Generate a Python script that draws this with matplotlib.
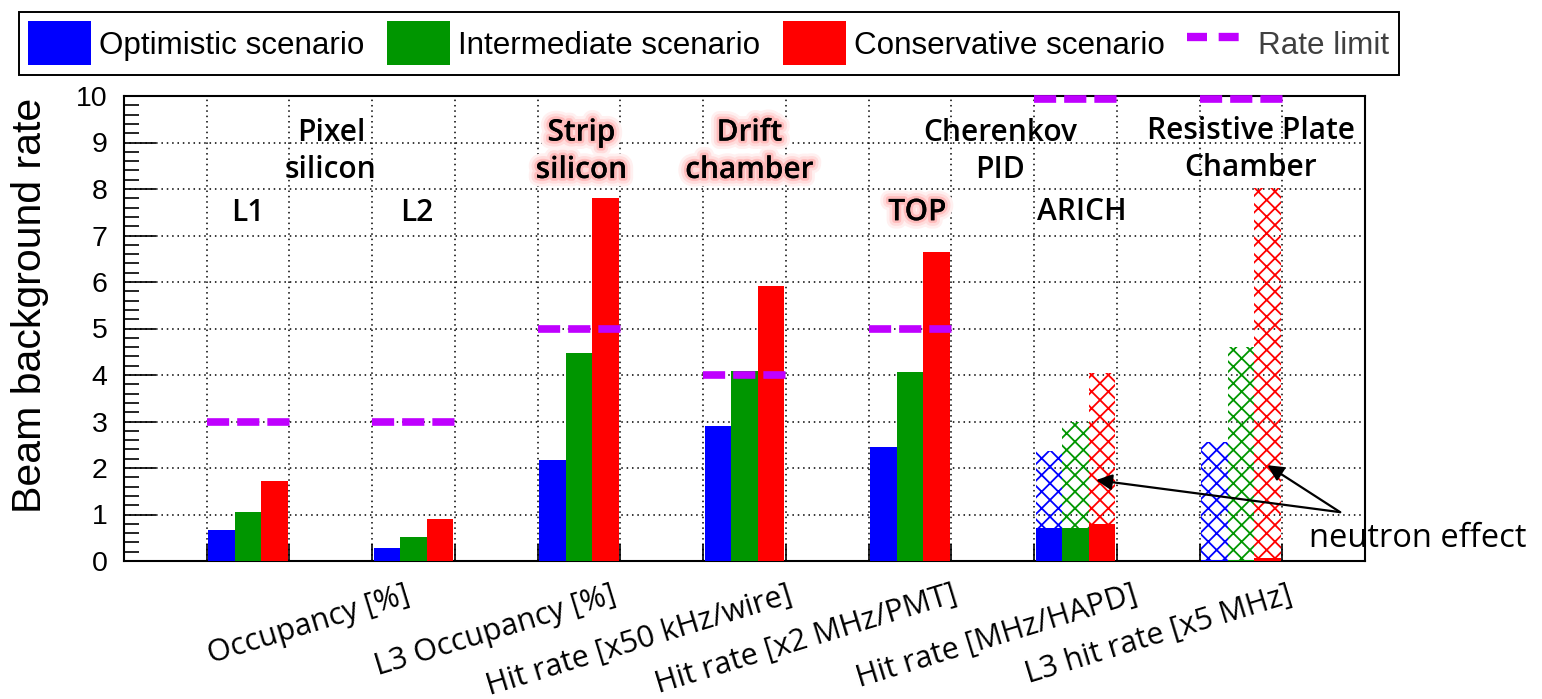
import matplotlib
matplotlib.use("Agg")
import matplotlib.pyplot as plt
import matplotlib.patheffects as pe
from matplotlib.patches import Patch
from matplotlib.lines import Line2D
from matplotlib.ticker import MultipleLocator
import numpy as np

plt.rcParams["hatch.linewidth"] = 1.3

# ---------------- data ----------------
groups = ["L1", "L2", "Strip", "Drift", "TOP", "ARICH", "RPC"]
optimistic = [0.67, 0.29, 2.17, 2.90, 2.46, 0.70, 0.03]
intermediate = [1.05, 0.52, 4.47, 4.08, 4.06, 0.72, 0.03]
conservative = [1.71, 0.91, 7.81, 5.91, 6.65, 0.79, 0.07]
# totals including neutron effect (hatched), only ARICH and RPC
neutron_groups = ["ARICH", "RPC"]
neutron_opt = [2.37, 2.55]
neutron_int = [3.00, 4.61]
neutron_con = [4.04, 8.03]
rate_limit = [3, 3, 5, 4, 5, 10, 10]

series_names = ["Optimistic scenario", "Intermediate scenario", "Conservative scenario"]
series_colors = ["#0000ff", "#009600", "#ff0000"]
limit_color = "#bf00ff"

xlabels = ["Occupancy [%]", "L3 Occupancy [%]", "Hit rate [x50 kHz/wire]",
           "Hit rate [x2 MHz/PMT]", "Hit rate [MHz/HAPD]", "L3 hit rate [x5 MHz]"]
xlabel_pos = [3.39, 5.89, 8.01, 10.01, 12.19, 14.06]

# ---------------- figure ----------------
W, H = 1542, 699
fig = plt.figure(figsize=(W / 100, H / 100), dpi=100)
ax = fig.add_axes([124 / W, 1 - 561 / H, (1365 - 124) / W, (561 - 96) / H])

ax.set_xlim(0, 15)
ax.set_ylim(0, 10)

group_x = np.arange(len(groups)) * 2 + 1  # start of each group bin
bw = 0.32
offset = 0.02
series = [optimistic, intermediate, conservative]
nseries = [neutron_opt, neutron_int, neutron_con]

# hatched neutron totals
for i, (vals, col) in enumerate(zip(nseries, series_colors)):
    xs = [group_x[groups.index(g)] + offset + bw * (i + 0.5) for g in neutron_groups]
    ax.bar(xs, vals, width=bw, facecolor="none", edgecolor=col, hatch="xx",
           linewidth=0, zorder=2)

# solid bars
for i, (vals, col) in enumerate(zip(series, series_colors)):
    xs = group_x + offset + bw * (i + 0.5)
    ax.bar(xs, vals, width=bw, color=col, linewidth=0, zorder=3)

# rate limits
for gx, lim in zip(group_x, rate_limit):
    yv = min(lim, 9.93)
    ax.plot([gx, gx + 1.01], [yv, yv], color=limit_color, lw=5.5,
            dashes=(2.9, 1.05), dash_capstyle="butt", zorder=4, clip_on=False)

# grid / ticks
ax.set_xticks(np.arange(1, 15))
ax.tick_params(axis="x", which="major", direction="in", length=12, width=1.2,
               labelbottom=False, colors="black")
ax.yaxis.set_major_locator(MultipleLocator(1))
ax.yaxis.set_minor_locator(MultipleLocator(0.2))
ax.tick_params(axis="y", which="major", direction="in", length=23, width=1.2,
               pad=12, labelsize=20.5)
ax.tick_params(axis="y", which="minor", direction="in", length=11, width=1.2)
for lab in ax.get_yticklabels():
    lab.set_fontfamily("Liberation Sans")
ax.grid(True, which="major", color="black", linestyle=(0, (1, 2.5)), linewidth=1.1)
ax.set_axisbelow(True)
for s in ax.spines.values():
    s.set_linewidth(1.5)

# x labels
for x, t in zip(xlabel_pos, xlabels):
    ax.text(x, -0.04, t, transform=ax.get_xaxis_transform(), rotation=17,
            rotation_mode="anchor", ha="right", va="top", fontsize=22,
            family="Open Sans")

# y label
fig.text(30 / W, 1 - 305 / H, "Beam background rate", rotation=90, ha="center",
         va="center", fontsize=29.5, family="Liberation Sans")

# annotations
glow = [pe.withStroke(linewidth=12, foreground="#fff0f0"),
        pe.withStroke(linewidth=8, foreground="#ffdcdc"),
        pe.withStroke(linewidth=4, foreground="#ffbcbc"),
        pe.Normal()]
tkw = dict(fontsize=21.5, family="Open Sans", weight="semibold", ha="center",
           va="center", linespacing=1.32, zorder=6)
ax.text(2.5, 8.81, "Pixel\nsilicon", **tkw)
ax.text(5.53, 8.81, "Strip\nsilicon", path_effects=glow, **tkw)
ax.text(7.56, 8.81, "Drift\nchamber", path_effects=glow, **tkw)
ax.text(10.59, 8.81, "Cherenkov\nPID", **tkw)
ax.text(13.62, 8.85, "Resistive Plate\nChamber", **tkw)
ax.text(1.5, 7.48, "L1", **tkw)
ax.text(3.54, 7.48, "L2", **tkw)
ax.text(9.59, 7.5, "TOP", path_effects=glow, **tkw)
ax.text(11.58, 7.5, "ARICH", **tkw)

ax.text(14.32, 0.49, "neutron effect", fontsize=23.5, family="Open Sans",
        ha="left", va="center", clip_on=False, zorder=6)
for tip in [(11.75, 1.74), (13.82, 2.06)]:
    ax.annotate("", xy=tip, xytext=(14.70, 1.05),
                arrowprops=dict(arrowstyle="-|>", color="black", lw=1.6,
                                mutation_scale=24, shrinkA=0, shrinkB=0),
                annotation_clip=False, zorder=7)

# legend
handles = [Patch(facecolor=c, edgecolor="none") for c in series_colors]
handles.append(Line2D([0], [0], color=limit_color, lw=6, dashes=(2.4, 1.4),
                      dash_capstyle="butt"))
labels = series_names + ["Rate limit"]
leg = fig.legend(handles, labels, loc="upper left",
                 bbox_to_anchor=(19 / W, 1 - 12 / H), ncol=4, frameon=True,
                 fancybox=False, edgecolor="black", framealpha=1,
                 prop={"family": "Liberation Sans", "size": 22.6},
                 handlelength=2.0, handleheight=1.78, handletextpad=0.25,
                 columnspacing=0.73, borderpad=0.3, borderaxespad=0)
leg.get_frame().set_linewidth(1.4)
leg.get_texts()[3].set_color("#404040")

fig.savefig("out.png", dpi=100)
